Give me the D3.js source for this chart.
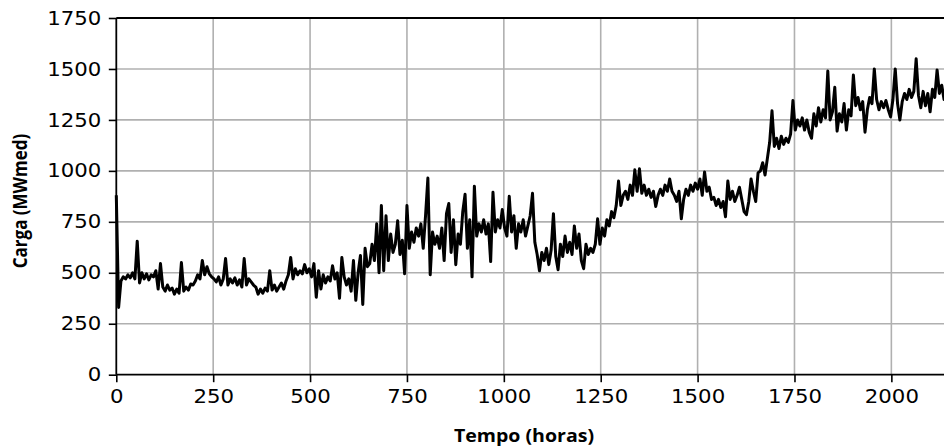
<!DOCTYPE html>
<html>
<head>
<meta charset="utf-8">
<script src="https://cdn.jsdelivr.net/npm/d3@7"></script>
<style>
  html, body { margin: 0; padding: 0; background: #fff; }
  svg { display: block; }
  .tick text { font-family: "DejaVu Sans", sans-serif; font-size: 19px; fill: #000; }
  .axis-title { font-family: "Open Sans", sans-serif; font-weight: 700; font-size: 17px; fill: #000; }
</style>
</head>
<body>
<div id="chart"></div>
<script>
// hourly load, read every 6 hours off the picture
const STEP_HOURS = 6;
const load = [
  880, 330, 460, 480, 470, 490, 475, 500, 470, 655,
  450, 500, 470, 495, 465, 490, 480, 510, 420, 545,
  430, 410, 440, 415, 425, 395, 420, 400, 550, 410,
  430, 415, 445, 440, 460, 490, 470, 560, 490, 530,
  495, 480, 470, 455, 480, 440, 470, 570, 440, 470,
  450, 475, 440, 465, 430, 570, 440, 470, 455, 440,
  430, 395, 420, 400, 425, 410, 510, 415, 440, 410,
  430, 450, 420, 460, 490, 575, 470, 520, 490, 510,
  495, 540, 500, 520, 480, 545, 380, 510, 420, 490,
  450, 480, 460, 535, 470, 500, 375, 575, 480, 440,
  470, 410, 560, 365, 500, 585, 345, 620, 530, 545,
  640, 560, 740, 500, 830, 510, 780, 560, 690, 600,
  640, 755, 590, 660, 495, 830, 620, 700, 650, 720,
  680, 740, 620, 780, 965, 490, 700, 640, 680, 620,
  720, 560, 790, 840, 600, 760, 540, 690, 640, 800,
  885, 620, 760, 480, 925, 680, 740, 700, 760, 690,
  740, 555, 895, 700, 760, 720, 810, 720, 680, 875,
  700, 780, 620, 740, 700, 760, 680, 730, 780, 890,
  650, 590, 510, 600, 560, 620, 540, 610, 790, 580,
  515, 640, 580, 680, 600, 650, 590, 730, 620, 690,
  560, 520, 640, 590, 620, 600, 640, 765, 640, 720,
  680, 760, 730, 800, 770, 830, 950, 830, 880, 900,
  860, 930, 880, 1005, 900, 1010, 890, 930, 880, 910,
  870, 900, 825, 880, 910, 880, 930, 900, 960, 900,
  880, 850, 900, 765, 860, 910, 880, 930, 900, 940,
  910, 960, 880, 995, 900, 920, 860, 870, 830, 860,
  820, 850, 775, 950, 860, 900, 850, 880, 920, 860,
  800, 785, 850, 960, 900, 850, 990, 1000, 1040, 980,
  1060, 1140, 1295, 1120, 1160, 1110, 1170, 1130, 1160, 1140,
  1180, 1345, 1200, 1250, 1220, 1260, 1200, 1250, 1190, 1160,
  1280, 1220, 1310, 1240, 1300, 1260, 1490, 1250, 1290, 1410,
  1195, 1280, 1240, 1330, 1200, 1300, 1270, 1470, 1320, 1360,
  1300, 1340, 1190, 1300, 1360, 1330, 1500, 1350, 1300, 1340,
  1310, 1345, 1300, 1265, 1350, 1500, 1330, 1250, 1340, 1380,
  1350, 1400, 1360, 1390, 1550, 1370, 1310, 1390, 1320, 1380,
  1290, 1400, 1360, 1495, 1380, 1420, 1350, 1380
];
const hours = load.map((d, i) => i * STEP_HOURS);

const xTicks = [0, 250, 500, 750, 1000, 1250, 1500, 1750, 2000];
const yTicks = [0, 250, 500, 750, 1000, 1250, 1500, 1750];
const xLabel = "Tempo (horas)";
const yLabel = "Carga (MWmed)";

const width = 944, height = 447;
const margin = {left: 116.3, top: 18, bottom: 72.3};
const plotBottom = height - margin.bottom;
const stretch = 1.12; // text in the picture is a bit wide

const x = d3.scaleLinear().domain([0, 2200]).range([margin.left, margin.left + 2200 * 0.38753]);
const y = d3.scaleLinear().domain([0, 1750]).range([plotBottom, margin.top]);

const svg = d3.select("#chart").append("svg")
  .attr("width", width)
  .attr("height", height);

// grid
svg.append("g")
  .selectAll("line")
  .data(xTicks.slice(1))
  .join("line")
  .attr("x1", d => x(d)).attr("x2", d => x(d))
  .attr("y1", margin.top).attr("y2", plotBottom)
  .attr("stroke", "#b0b0b0").attr("stroke-width", 1.6);

svg.append("g")
  .selectAll("line")
  .data(yTicks.slice(1, -1))
  .join("line")
  .attr("x1", margin.left).attr("x2", x(2200))
  .attr("y1", d => y(d)).attr("y2", d => y(d))
  .attr("stroke", "#b0b0b0").attr("stroke-width", 1.6);

// the series
const line = d3.line()
  .x((d, i) => x(hours[i]))
  .y(d => y(d));

svg.append("path")
  .datum(load)
  .attr("fill", "none")
  .attr("stroke", "#000")
  .attr("stroke-width", 3)
  .attr("stroke-linejoin", "round")
  .attr("d", line);

// axes
const xAxis = d3.axisBottom(x).tickValues(xTicks).tickSize(7.5).tickPadding(7).tickFormat(d3.format("d"));
const yAxis = d3.axisLeft(y).tickValues(yTicks).tickSize(7.5).tickPadding(7).tickFormat(d3.format("d"));

svg.append("g")
  .attr("transform", `translate(0,${plotBottom})`)
  .call(xAxis)
  .call(g => g.select(".domain").remove())
  .call(g => g.selectAll(".tick text").attr("transform", `scale(${stretch},1)`));

svg.append("g")
  .attr("transform", `translate(${margin.left},0)`)
  .call(yAxis)
  .call(g => g.select(".domain").remove())
  .call(g => g.selectAll(".tick text")
    .attr("x", 0)
    .attr("transform", `translate(${-15},0) scale(${stretch},1)`));

svg.selectAll(".tick line").attr("stroke", "#000").attr("stroke-width", 1.6);

// spines
const spine = svg.append("g").attr("stroke", "#000").attr("stroke-width", 1.8);
spine.append("line").attr("x1", margin.left).attr("x2", margin.left).attr("y1", margin.top).attr("y2", plotBottom);
spine.append("line").attr("x1", margin.left).attr("x2", x(2200)).attr("y1", margin.top).attr("y2", margin.top);
spine.append("line").attr("x1", margin.left).attr("x2", x(2200)).attr("y1", plotBottom).attr("y2", plotBottom);

// titles
svg.append("text")
  .attr("class", "axis-title")
  .attr("transform", `translate(524,442) scale(1.15,1)`)
  .attr("text-anchor", "middle")
  .text(xLabel);

svg.append("text")
  .attr("class", "axis-title")
  .attr("transform", `translate(27,201) scale(1.15,1) rotate(-90)`)
  .attr("text-anchor", "middle")
  .text(yLabel);
</script>
</body>
</html>
